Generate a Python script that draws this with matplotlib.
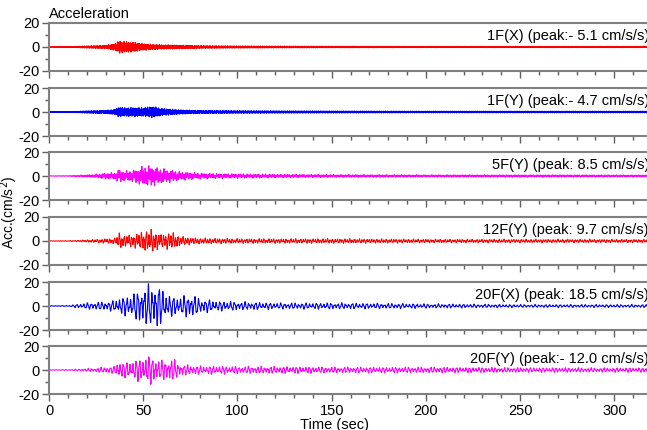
import matplotlib.pyplot as plt
import numpy as np

plt.rcParams['font.family'] = ['Liberation Sans', 'DejaVu Sans']
plt.rcParams['axes.unicode_minus'] = False

# Panel labels, peaks and colours
labels = ['1F(X) (peak:- 5.1 cm/s/s)', '1F(Y) (peak:- 4.7 cm/s/s)',
          '5F(Y) (peak: 8.5 cm/s/s)', '12F(Y) (peak: 9.7 cm/s/s)',
          '20F(X) (peak: 18.5 cm/s/s)', '20F(Y) (peak:- 12.0 cm/s/s)']
peaks = [-5.1, -4.7, 8.5, 9.7, 18.5, -12.0]
colors = ['#ff0000', '#0000ff', '#ff00ff', '#ff0000', '#0000ff', '#ff00ff']

# Envelope (cm/s^2) at these times (sec)
env_t = [0, 10, 15, 20, 25, 30, 35, 37, 40, 45, 50, 55, 58, 60, 65, 70, 75, 80,
         90, 100, 120, 150, 200, 250, 320]
env_1fx = [0.2, 0.3, 0.5, 0.8, 1.0, 1.2, 2.5, 4.5, 4.0, 3.5, 2.5, 2.0, 1.8, 1.6, 1.5, 1.3,
           1.2, 1.0, 0.9, 0.8, 0.7, 0.6, 0.5, 0.5, 0.5]
env_1fy = [0.3, 0.3, 0.5, 0.8, 1.0, 1.2, 1.8, 3.5, 3.0, 3.2, 3.0, 4.0, 3.0, 2.5, 2.0, 1.5,
           1.3, 1.1, 1.0, 0.9, 0.8, 0.7, 0.6, 0.6, 0.6]
env_5fy = [0.2, 0.3, 0.6, 1.0, 1.5, 2.5, 2.8, 5.5, 4.0, 5.0, 8.0, 8.5, 6.5, 6.0, 5.0, 3.5,
           3.0, 2.5, 2.0, 1.8, 1.5, 1.2, 1.0, 1.0, 0.9]
env_12fy = [0.2, 0.3, 0.6, 1.0, 1.5, 2.0, 2.5, 7.0, 5.0, 5.5, 8.5, 9.7, 7.0, 6.0, 7.5, 4.0,
            3.0, 2.5, 2.3, 2.0, 2.0, 2.0, 1.6, 1.5, 1.4]
env_20fx = [0.2, 0.4, 1.5, 2.5, 3.0, 3.5, 4.5, 7.0, 7.5, 10.0, 16.0, 17.0, 18.5, 13.0,
            8.0, 7.5, 10.0, 6.0, 4.0, 3.5, 2.5, 2.5, 1.8, 1.2, 1.2]
env_20fy = [0.2, 0.3, 0.8, 1.2, 1.8, 2.5, 3.0, 8.0, 6.0, 8.0, 10.5, 12.0, 9.0, 8.0, 10.0,
            5.0, 4.0, 3.5, 3.5, 3.0, 3.0, 2.5, 2.5, 2.0, 1.8]
envelopes = [env_1fx, env_1fy, env_5fy, env_12fy, env_20fx, env_20fy]

# Dominant periods (sec) of each record, read from the oscillations
periods = [(0.35, 0.5), (0.33, 0.47), (0.9, 2.0), (1.3, 2.4), (1.9, 2.7), (1.7, 2.3)]

dt = 0.02
t = np.arange(0, 320, dt)

fig = plt.figure(figsize=(6.47, 4.30), dpi=100)
W, H = 647, 430
left_px, right_px = 49, 652
tops = [23, 88, 152, 217, 282, 346]
h_px = 48

for i, top in enumerate(tops):
    ax = fig.add_axes([left_px / W, 1 - (top + h_px) / H,
                       (right_px - left_px) / W, h_px / H])
    env = np.interp(t, env_t, envelopes[i])
    p1, p2 = periods[i]
    carrier = (0.75 * np.sin(2 * np.pi * t / p1)
               + 0.3 * np.sin(2 * np.pi * t / p2 + 1.3)
               + 0.3 * np.sin(2 * np.pi * t / (p1 * 0.45) + 0.4))
    y = env * carrier
    k = np.argmax(np.abs(y))
    y = y * abs(peaks[i]) / abs(y[k])
    if np.sign(y[k]) != np.sign(peaks[i]):
        y = -y
    ax.plot(t, y, color=colors[i], lw=0.8)
    ax.set_xlim(0, 320)
    ax.set_ylim(-20, 20)
    ax.set_yticks([-20, 0, 20])
    ax.set_yticks([-10, 10], minor=True)
    ax.set_xticks(np.arange(0, 321, 50))
    ax.set_xticks(np.arange(0, 321, 10), minor=True)
    for s in ['top', 'bottom', 'left']:
        ax.spines[s].set_color('#808080')
        ax.spines[s].set_linewidth(1.5)
    ax.spines['right'].set_visible(False)
    ax.tick_params(which='major', direction='out', length=5, width=1,
                   color='#606060', labelsize=10.5, pad=2)
    ax.tick_params(which='minor', direction='out', length=3, width=1,
                   color='#606060')
    if i < 5:
        ax.tick_params(axis='x', labelbottom=False)
    ax.text(0.995, 0.73, labels[i], transform=ax.transAxes, ha='right',
            va='center', fontsize=10.5)

fig.text(49 / W, 1 - 14 / H, 'Acceleration', ha='left', va='center', fontsize=10.5)
fig.text(9 / W, 1 - 212 / H, 'Acc.(cm/s$^2$)', rotation=90, ha='center',
         va='center', fontsize=10)
fig.text(335 / W, 1 - 425 / H, 'Time (sec)', ha='center', va='center', fontsize=10.5)

fig.savefig('out.png', dpi=100)
